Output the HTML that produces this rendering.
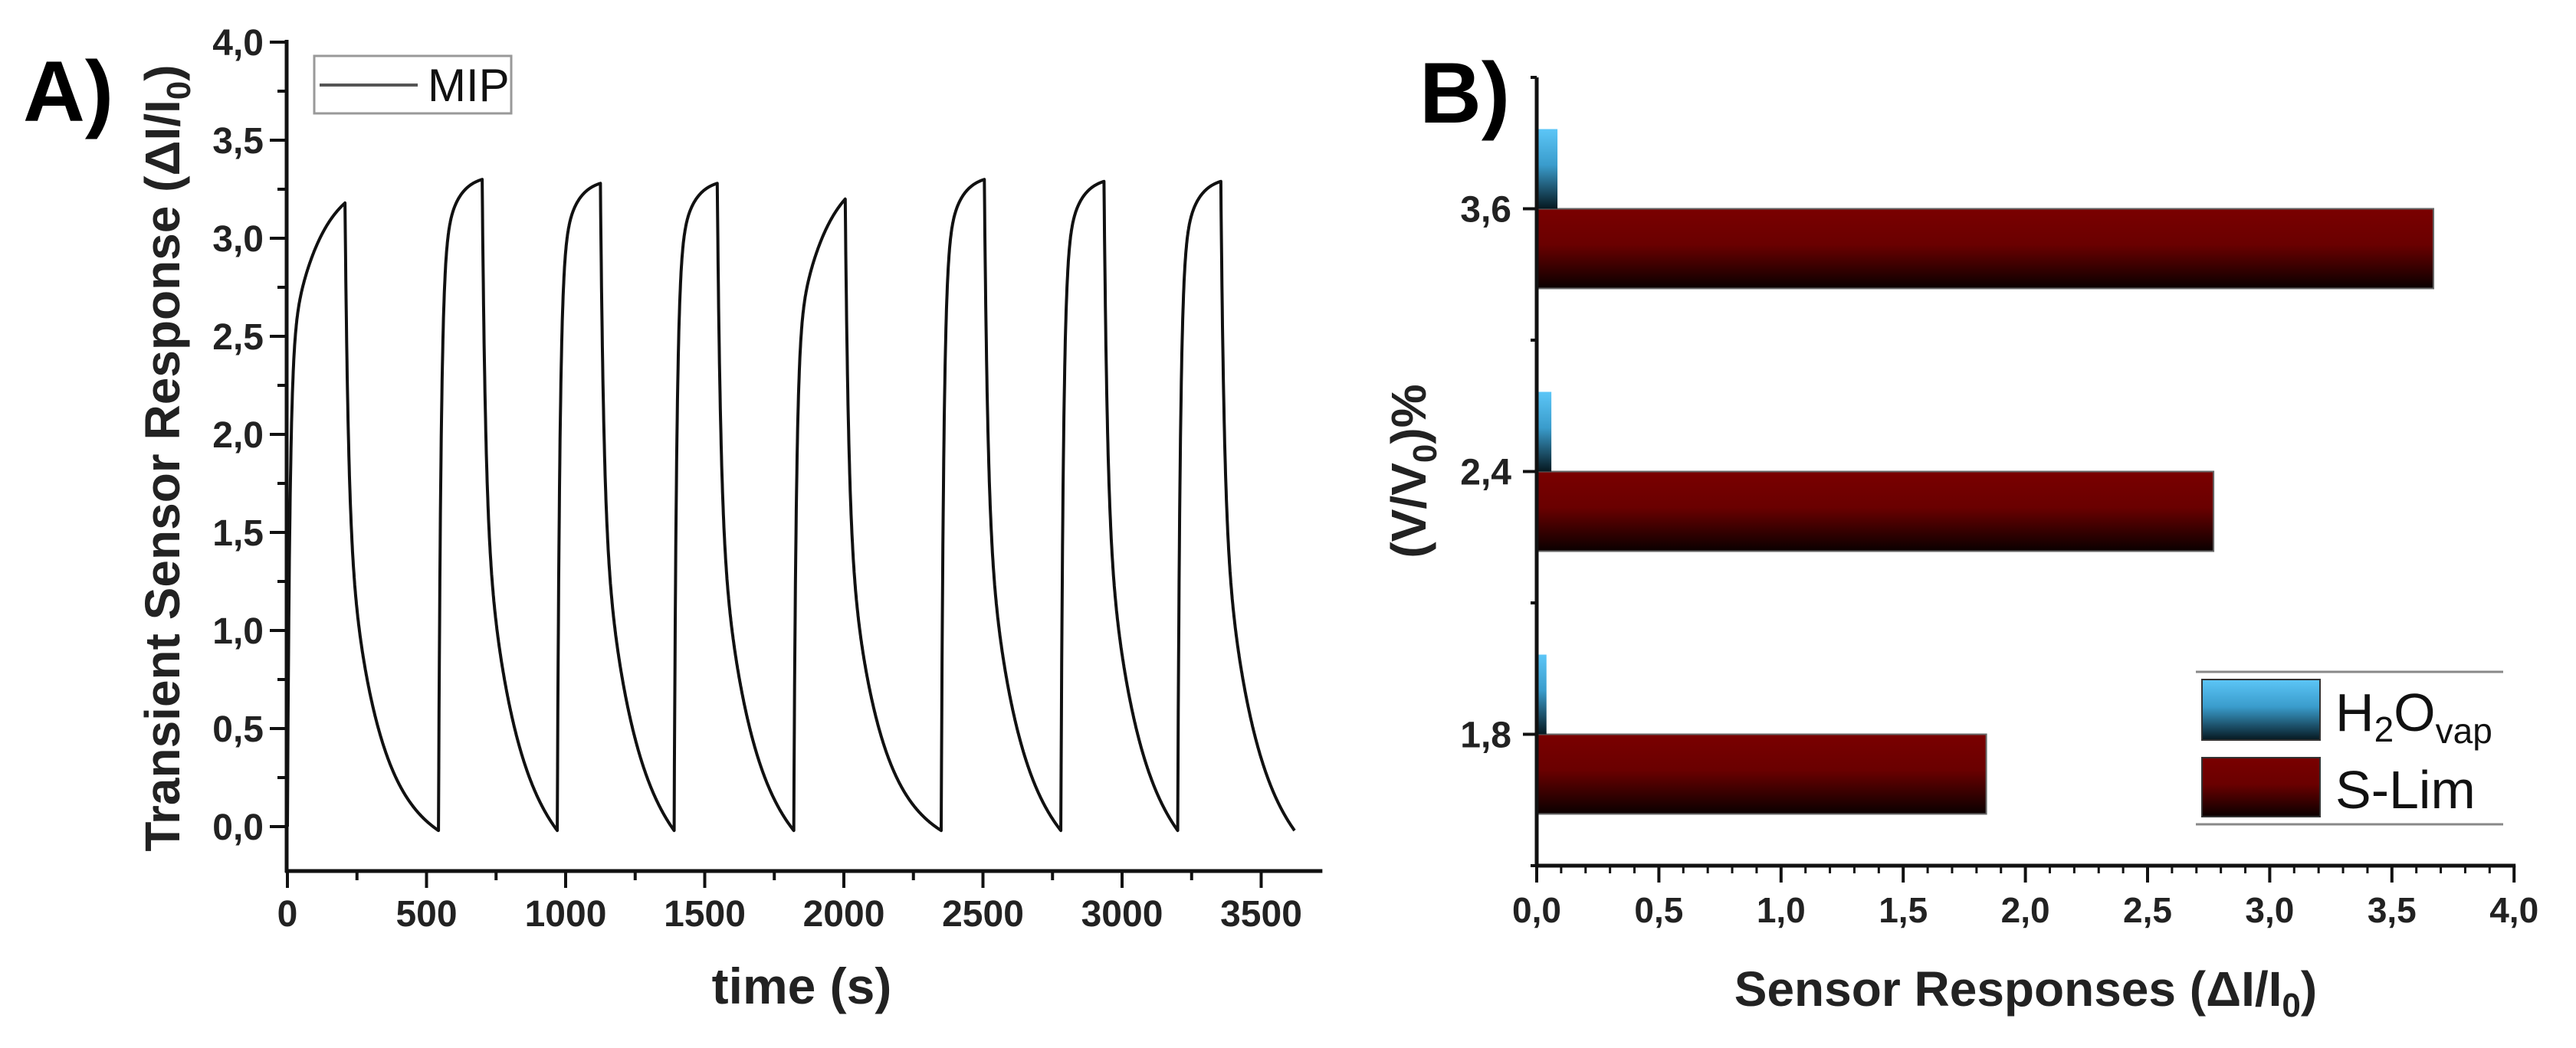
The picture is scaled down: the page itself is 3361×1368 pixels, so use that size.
<!DOCTYPE html>
<html><head><meta charset="utf-8">
<style>
html,body{margin:0;padding:0;background:#fff;}
svg{display:block;font-family:"Liberation Sans",Arial,sans-serif;}
</style></head>
<body>
<svg id="c" width="3361" height="1368" viewBox="0 0 3361 1368" xmlns="http://www.w3.org/2000/svg">
<defs>
<linearGradient id="gRed" x1="0" y1="0" x2="0" y2="1">
<stop offset="0" stop-color="#7a0000"/><stop offset="0.45" stop-color="#6a0000"/><stop offset="1" stop-color="#0a0000"/>
</linearGradient>
<linearGradient id="gBlue" x1="0" y1="0" x2="0" y2="1">
<stop offset="0" stop-color="#5cc6f7"/><stop offset="0.45" stop-color="#3a9ccc"/><stop offset="1" stop-color="#061820"/>
</linearGradient>
</defs>
<text x="30" y="158" font-size="112" font-weight="bold">A)</text>
<text x="1852" y="160" font-size="112" font-weight="bold">B)</text>
<g id="A"></g>
<g id="B"></g>
</svg>
<script>
// ---------- Panel A data ----------
const cycleStart = [0, 543, 970, 1390, 1820, 2350, 2780, 3200];
const cyclePeakTime = [207, 700, 1125, 1545, 2005, 2505, 2935, 3355];
const cyclePeakValue = [3.18, 3.30, 3.28, 3.28, 3.20, 3.30, 3.29, 3.29];
const cycleEnd = [543, 970, 1390, 1820, 2350, 2780, 3200, 3620];
const cycleSlowFrac = [0.28, 0.15, 0.15, 0.15, 0.28, 0.15, 0.15, 0.15];
const cycleSlowTau = [110, 50, 50, 50, 110, 50, 50, 50];
const xTicksA = [0, 500, 1000, 1500, 2000, 2500, 3000, 3500];
const yTicksA = [0, 0.5, 1, 1.5, 2, 2.5, 3, 3.5, 4];
const yTickLabelsA = ["0,0","0,5","1,0","1,5","2,0","2,5","3,0","3,5","4,0"];

// ---------- Panel B data ----------
const categoriesB = ["1,8", "2,4", "3,6"];
const waterValues = [0.04, 0.06, 0.085];
const slimValues = [1.84, 2.77, 3.67];
const xTicksB = [0, 0.5, 1, 1.5, 2, 2.5, 3, 3.5, 4];
const xTickLabelsB = ["0,0","0,5","1,0","1,5","2,0","2,5","3,0","3,5","4,0"];

const NS = "http://www.w3.org/2000/svg";
function mk(tag, attrs, parent, txt){
  const e = document.createElementNS(NS, tag);
  for (const k in attrs) e.setAttribute(k, attrs[k]);
  if (txt !== undefined) e.textContent = txt;
  parent.appendChild(e);
  return e;
}

// ---- Panel A ----
(function(){
  const g = document.getElementById('A');
  const x = t => 375 + t * (181.5/500);
  const y = v => 1079 - v * 256;
  let e = mk('line',{x1:374,y1:52,x2:374,y2:1139,stroke:'#111','stroke-width':5},g);
   
  e = mk('line',{x1:372,y1:1137,x2:x(3720),y2:1137,stroke:'#111','stroke-width':5},g);
   
  for (let t = 0; t <= 3700; t += 250){
    const major = t % 500 === 0;
    mk('line',{x1:x(t),y1:1137,x2:x(t),y2:1137+(major?22:12),stroke:'#111','stroke-width':4},g);
  }
  xTicksA.forEach(t=>{
    const l = mk('text',{x:x(t),y:1209,'font-size':48,'font-weight':'bold','text-anchor':'middle',fill:'#222'},g,String(t));
     
  });
  for (let v = 0; v <= 4.0001; v += 0.25){
    const major = Math.abs(v*2 - Math.round(v*2)) < 1e-6;
    mk('line',{x1:374-(major?22:12),y1:y(v),x2:374,y2:y(v),stroke:'#111','stroke-width':4},g);
  }
  yTicksA.forEach((v,i)=>{
    const l = mk('text',{x:344,y:y(v)+17,'font-size':48,'font-weight':'bold','text-anchor':'end',fill:'#222'},g,yTickLabelsA[i]);
     
  });
  let t1 = mk('text',{x:1046,y:1310,'font-size':66,'font-weight':'bold','text-anchor':'middle',fill:'#222'},g,'time (s)');
   
  let t2 = mk('text',{x:0,y:0,'font-size':64,'font-weight':'bold','text-anchor':'middle',fill:'#222',transform:'translate(234,598) rotate(-90)'},g);
   
  t2.innerHTML = 'Transient Sensor Response (ΔI/I<tspan font-size="44" dy="14">0</tspan><tspan dy="-14">)</tspan>';
  let pts = [];
  cycleStart.forEach((s,i)=>{
    const tp = cyclePeakTime[i], P = cyclePeakValue[i], te = cycleEnd[i];
    const b = cycleSlowFrac[i], tb = cycleSlowTau[i];
    const rise = u => 1 - (1-b)*Math.exp(-u/9) - b*Math.exp(-u/tb);
    const norm = rise(tp - s);
    for (let t = s; t <= tp; t += 1){
      pts.push([x(t), y(P*rise(t-s)/norm)]);
    }
    const span = te - tp;
    const fall = u => 0.5*Math.exp(-u/12) + 0.5*Math.exp(-u/110);
    const endV = fall(span);
    for (let t = tp; t <= te; t += 1){
      const u = t - tp;
      const v = (fall(u) - endV*(u/span)) * P - 0.02*(u/span);
      pts.push([x(t), y(v)]);
    }
  });
  const p = mk('path',{d:'M'+pts.map(q=>q[0].toFixed(1)+','+q[1].toFixed(1)).join('L'),fill:'none',stroke:'#111','stroke-width':4,'stroke-linejoin':'round'},g);
   
  const lg = mk('g',{},g);
   
  mk('rect',{x:410,y:73,width:257,height:75,fill:'#fff',stroke:'#999','stroke-width':3},lg);
  mk('line',{x1:417,y1:111,x2:545,y2:111,stroke:'#555','stroke-width':4},lg);
  mk('text',{x:558,y:132,'font-size':60,fill:'#111'},lg,'MIP');
})();

// ---- Panel B ----
(function(){
  const g = document.getElementById('B');
  const x = v => 2005 + v * 318.8;
  const y = c => 1130 - (c - 0.5) * 343;
  const barH = 104;
  slimValues.forEach((v,i)=>{
    const cy = y(i+1);
    const r = mk('rect',{x:x(0),y:cy,width:x(v)-x(0),height:barH,fill:'url(#gRed)',stroke:'#666','stroke-width':2},g);
     
    const b = mk('rect',{x:x(0),y:cy-barH,width:x(waterValues[i])-x(0),height:barH,fill:'url(#gBlue)'},g);
     
  });
  let e = mk('line',{x1:2005,y1:101,x2:2005,y2:1132,stroke:'#111','stroke-width':5},g);
   
  e = mk('line',{x1:2003,y1:1130,x2:x(4)+2,y2:1130,stroke:'#111','stroke-width':5},g);
   
  for (let k = 0; k <= 40; k++){
    const major = k % 5 === 0;
    mk('line',{x1:x(k/10),y1:1130,x2:x(k/10),y2:1130+(major?22:10),stroke:'#111','stroke-width':major?4:3},g);
  }
  xTicksB.forEach((v,i)=>{
    const l = mk('text',{x:x(v),y:1204,'font-size':46,'font-weight':'bold','text-anchor':'middle',fill:'#222'},g,xTickLabelsB[i]);
     
  });
  for (let c = 0.5; c <= 3.5001; c += 0.5){
    const major = Math.abs(c - Math.round(c)) < 1e-6;
    mk('line',{x1:2005-(major?18:8),y1:y(c),x2:2005,y2:y(c),stroke:'#111','stroke-width':4},g);
  }
  categoriesB.forEach((c,i)=>{
    const l = mk('text',{x:1972,y:y(i+1)+17,'font-size':48,'font-weight':'bold','text-anchor':'end',fill:'#222'},g,c);
     
  });
  let t1 = mk('text',{x:2643,y:1313,'font-size':64,'font-weight':'bold','text-anchor':'middle',fill:'#222'},g);
   
  t1.innerHTML = 'Sensor Responses (ΔI/I<tspan font-size="44" dy="14">0</tspan><tspan dy="-14">)</tspan>';
  let t2 = mk('text',{x:0,y:0,'font-size':64,'font-weight':'bold','text-anchor':'middle',fill:'#222',transform:'translate(1860,615) rotate(-90)'},g);
   
  t2.innerHTML = '(V/V<tspan font-size="44" dy="14">0</tspan><tspan dy="-14">)%</tspan>';
  const lg = mk('g',{},g);
   
  mk('rect',{x:2865,y:877,width:401,height:199,fill:'#fff',stroke:'none'},lg);
  mk('line',{x1:2865,y1:877,x2:3266,y2:877,stroke:'#888','stroke-width':3},lg);
  mk('line',{x1:2865,y1:1076,x2:3266,y2:1076,stroke:'#888','stroke-width':3},lg);
  mk('rect',{x:2873,y:887,width:154,height:79,fill:'url(#gBlue)',stroke:'#333','stroke-width':2},lg);
  mk('rect',{x:2873,y:989,width:154,height:77,fill:'url(#gRed)',stroke:'#333','stroke-width':2},lg);
  const h = mk('text',{x:3047,y:954,'font-size':70,fill:'#111'},lg);
  h.innerHTML = 'H<tspan font-size="46" dy="14">2</tspan><tspan dy="-14">O</tspan><tspan font-size="46" dy="16">vap</tspan>';
  mk('text',{x:3047,y:1055,'font-size':70,fill:'#111'},lg,'S-Lim');
})();
</script>
</body></html>
